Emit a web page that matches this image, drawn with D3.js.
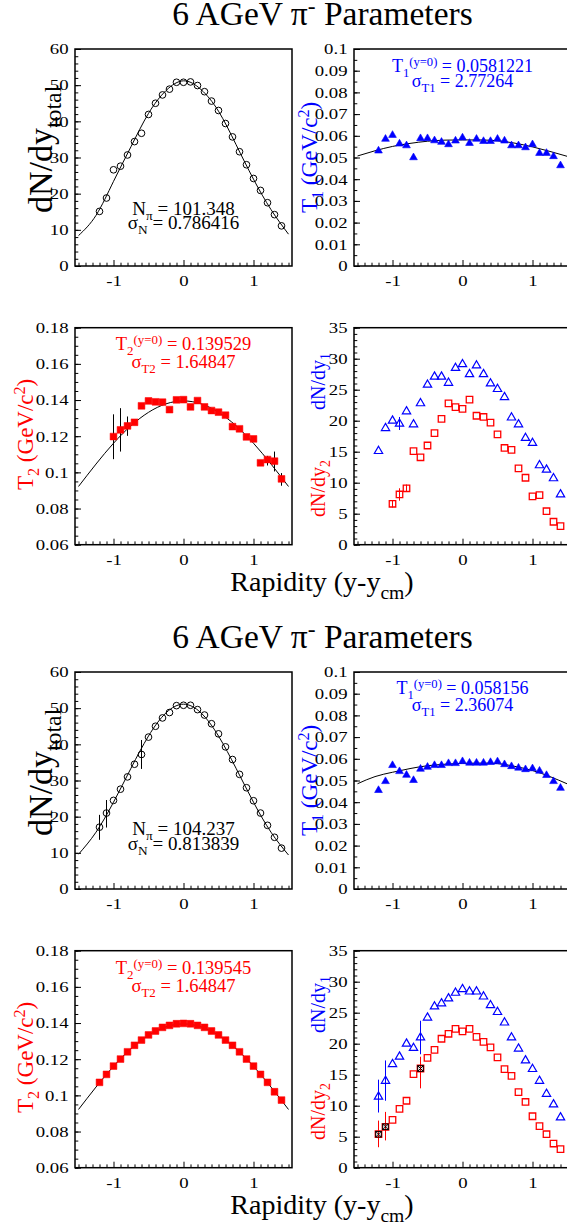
<!DOCTYPE html>
<html>
<head>
<meta charset="utf-8">
<script src="https://cdn.jsdelivr.net/npm/d3@7"></script>
<style>
  body { margin: 0; background: #fff; }
  svg text { font-family: "Liberation Serif", "Times New Roman", serif; }
</style>
</head>
<body>
<script>
var w = 567;
var h = 1228;
var SERIF = '"Liberation Serif", "Times New Roman", serif';

var svg = d3.select("body").append("svg").attr("width", w).attr("height", h)
  .attr("font-family", SERIF);

//rapidity bins used by every panel
var rapidity = [-1.2, -1.1, -1.0, -0.9, -0.8, -0.7, -0.6, -0.5, -0.4, -0.3, -0.2, -0.1, 0,
  0.1, 0.2, 0.3, 0.4, 0.5, 0.6, 0.7, 0.8, 0.9, 1.0, 1.1, 1.2, 1.3, 1.4];

//upper figure
var dndyTotalTop = [15.1, 18.8, 26.6, 27.6, 30.7, 34.4, 36.7, 41.9, 45.0, 47.3, 48.9, 50.8, 50.8,
  50.9, 49.9, 48.2, 45.6, 43.0, 39.4, 35.7, 31.6, 28.0, 24.2, 20.9, 17.5, 14.2, 11.1];
var t1Top = [0.0531, 0.0585, 0.0603, 0.0563, 0.0555, 0.0500, 0.0588, 0.0588, 0.0578, 0.0571, 0.0560, 0.0577, 0.0591,
  0.0566, 0.0585, 0.0575, 0.0575, 0.0585, 0.0577, 0.0555, 0.0555, 0.0546, 0.0560, 0.0520, 0.0520, 0.0505, 0.0463];
var t2Top = [null, null, 0.1198, 0.1235, 0.1257, 0.1277, 0.1368, 0.1395, 0.1390, 0.1388, 0.1347, 0.1401, 0.1402,
  0.1362, 0.1397, 0.1362, 0.1342, 0.1333, 0.1316, 0.1253, 0.1241, 0.1196, 0.1185, 0.1053, 0.1071, 0.1062, 0.0964];
var dndy1Top = [15.1, 18.8, 20.0, 19.5, 21.5, 19.4, 22.8, 25.8, 27.1, 27.1, 26.1, 28.5, 29.1,
  27.5, 28.9, 27.5, 26.0, 25.1, 23.8, 20.5, 19.4, 17.2, 16.4, 12.8, 12.1, 10.7, 8.1];
var dndy2Top = [null, null, 6.6, 8.1, 9.1, 15.1, 14.1, 16.0, 18.0, 20.3, 22.8, 22.2, 21.9,
  23.4, 20.8, 20.6, 19.7, 17.8, 15.6, 15.3, 12.3, 10.8, 7.8, 8.0, 5.4, 3.7, 3.0];

//lower figure
var dndyTotalBot = [17.1, 21.0, 24.5, 27.6, 31.0, 34.5, 37.2, 42.0, 45.0, 47.3, 48.8, 50.7, 50.8,
  50.8, 49.6, 48.1, 45.7, 42.9, 39.3, 35.8, 31.7, 28.0, 24.4, 21.0, 17.6, 14.3, 11.3];
var t1Bot = [0.0455, 0.0496, 0.0570, 0.0542, 0.0525, 0.0501, 0.0553, 0.0562, 0.0570, 0.0570, 0.0579, 0.0579, 0.0588,
  0.0581, 0.0581, 0.0581, 0.0584, 0.0587, 0.0574, 0.0565, 0.0558, 0.0551, 0.0555, 0.0544, 0.0524, 0.0496, 0.0465];
var t2Bot = [0.1072, 0.1116, 0.1162, 0.1201, 0.1241, 0.1277, 0.1306, 0.1334, 0.1356, 0.1376, 0.1387, 0.1396, 0.1398,
  0.1396, 0.1387, 0.1376, 0.1356, 0.1334, 0.1306, 0.1277, 0.1241, 0.1201, 0.1162, 0.1116, 0.1072, 0.1020, 0.0974];
var dndy1Bot = [11.45, 14.0, 16.7, 17.9, 20.0, 19.3, 21.0, 24.2, 26.0, 26.5, 27.3, 28.2, 28.8,
  28.4, 28.4, 27.6, 26.2, 25.1, 23.4, 21.0, 19.2, 17.3, 15.9, 14.0, 11.9, 10.2, 8.1];
var dndy2Bot = [5.4, 6.6, 7.7, 9.5, 10.8, 15.1, 16.0, 17.7, 19.0, 20.8, 21.6, 22.4, 22.0,
  22.4, 21.1, 20.3, 19.4, 17.8, 15.9, 14.8, 12.2, 10.6, 8.3, 6.7, 5.4, 3.9, 3.0];

//error bars: [rapidity, low, high]
var errT2Top = [[-1.0, 0.1073, 0.1321], [-0.9, 0.1115, 0.1355], [-0.8, 0.1202, 0.1309], [-0.7, 0.1264, 0.1290],
  [-0.6, 0.1356, 0.1380], [1.0, 0.1173, 0.1197], [1.1, 0.1041, 0.1065], [1.2, 0.1038, 0.1091],
  [1.3, 0.1005, 0.1115], [1.4, 0.0926, 0.0996]];
var errDndy1Top = [[-0.9, 18.5, 20.6]];
var errDndy2Top = [[-1.0, 6.0, 7.2], [-0.9, 7.1, 9.1], [-0.8, 8.5, 9.7]];
var errTotalBot = [[-1.2, 13.6, 20.5], [-1.1, 17.0, 24.6], [-0.6, 33.2, 41.2]];
var errDndy1Bot = [[-1.2, 8.9, 14.2], [-1.1, 10.8, 17.3], [-0.6, 18.3, 23.7]];
var errDndy2Bot = [[-1.2, 3.3, 7.6], [-1.1, 4.4, 9.0], [-0.6, 12.8, 17.9]];
//points flagged with a black crossed box in the lower dN/dy2 panel
var flaggedBot = [-1.2, -1.1, -0.6];

//fit curves
var fitRapidity = [-1.5, -1.25, -1.0, -0.75, -0.5, -0.25, 0, 0.25, 0.5, 0.75, 1.0, 1.25, 1.5];
var fitTotalTop = [8.4, 14.0, 23.4, 33.0, 42.2, 48.5, 51.2, 48.8, 42.8, 33.6, 24.0, 15.6, 8.8];
var fitTotalBot = [9.6, 15.7, 24.0, 33.4, 42.3, 48.7, 51.1, 48.7, 42.3, 33.4, 24.0, 15.7, 9.4];
var fitT1Top = [0.0507, 0.0531, 0.0551, 0.0565, 0.0575, 0.0580, 0.0581, 0.0581, 0.0577, 0.0566, 0.0549, 0.0528, 0.0505];
var fitT1Bot = [0.0485, 0.0518, 0.0538, 0.0555, 0.0568, 0.0575, 0.0579, 0.0580, 0.0578, 0.0565, 0.0546, 0.0518, 0.0484];
var fitT2Top = [0.0922, 0.1046, 0.1161, 0.1258, 0.1332, 0.1379, 0.1395, 0.1379, 0.1332, 0.1258, 0.1161, 0.1046, 0.0922];
var fitT2Bot = [0.0922, 0.1046, 0.1161, 0.1258, 0.1332, 0.1379, 0.1395, 0.1379, 0.1332, 0.1258, 0.1161, 0.1046, 0.0922];

//tick labels
var xTicks = [-1, 0, 1];
var yTicksTotal = [0, 10, 20, 30, 40, 50, 60];
var yTicksT1 = [0, 0.01, 0.02, 0.03, 0.04, 0.05, 0.06, 0.07, 0.08, 0.09, 0.1];
var yTicksT2 = [0.06, 0.08, 0.1, 0.12, 0.14, 0.16, 0.18];
var yTicksDndy = [0, 5, 10, 15, 20, 25, 30, 35];

var BLUE = "#0000ff", RED = "#ff0000";
var PW = 217, PH = 217;
var colX = [75, 354];
var halfY = [0, 623];
var rowY = [49, 327.7];
var TICK_STRETCH = 1.25;

//write text with sub/superscripts; parts = [[text, "sub"|"sup"|undefined], ...]
function rich(text, parts, fs) {
  var shift = 0;
  parts.forEach(function (p) {
    var t = text.append("tspan").text(p[0]);
    var target = p[1] === "sub" ? fs * 0.27 : p[1] === "sup" ? -fs * 0.33 : 0;
    if (p[1]) t.attr("font-size", fs * 0.7);
    t.attr("dy", target - shift);
    shift = target;
  });
  return text;
}

function axisStyle(a) {
  a.select(".domain").remove();
  a.attr("font-family", SERIF).attr("font-size", 15);
  //the tick digits of the original are wide, so stretch them sideways around their anchor
  a.selectAll(".tick text").attr("fill", "#000").attr("transform", function () {
    var xv = +d3.select(this).attr("x") || 0;
    return "translate(" + (xv * (1 - TICK_STRETCH)) + ",0) scale(" + TICK_STRETCH + ",1)";
  });
  a.selectAll(".tick line").attr("stroke", "#000");
}

function panel(opt) {
  var g = svg.append("g").attr("transform", "translate(" + opt.x + "," + opt.y + ")");
  var x = d3.scaleLinear().domain([-1.55, 1.55]).range([0, PW]);
  var y = d3.scaleLinear().domain(opt.yDomain).range([PH, 0]);

  //minor ticks
  g.append("g").attr("transform", "translate(0," + PH + ")")
    .call(d3.axisBottom(x).tickValues(d3.range(-15, 16).filter(function (v) { return v % 10 !== 0; })
      .map(function (v) { return v / 10; })).tickSize(-3.3).tickFormat(""))
    .call(axisStyle);
  var nMinor = Math.round((opt.yDomain[1] - opt.yDomain[0]) / opt.yMinor);
  g.append("g")
    .call(d3.axisLeft(y).tickValues(d3.range(0, nMinor + 1).map(function (i) { return opt.yDomain[0] + i * opt.yMinor; }))
      .tickSize(-3.3).tickFormat(""))
    .call(axisStyle);

  //major ticks + labels
  g.append("g").attr("transform", "translate(0," + PH + ")")
    .call(d3.axisBottom(x).tickValues(xTicks).tickSize(-6).tickPadding(9.4).tickFormat(function (d) { return String(d); }))
    .call(axisStyle);
  g.append("g")
    .call(d3.axisLeft(y).tickValues(opt.yTicks).tickSize(-6).tickPadding(6.5).tickFormat(function (d) { return String(d); }))
    .call(axisStyle);

  g.append("clipPath").attr("id", opt.id).append("rect").attr("width", PW).attr("height", PH);
  var inner = g.append("g").attr("clip-path", "url(#" + opt.id + ")");
  opt.draw(inner, x, y);

  g.append("rect").attr("width", PW).attr("height", PH)
    .attr("fill", "none").attr("stroke", "#000").attr("stroke-width", 1.5);
  return g;
}

function fitLine(g, x, y, vals) {
  g.append("path")
    .datum(fitRapidity.map(function (r, i) { return [r, vals[i]]; }))
    .attr("fill", "none").attr("stroke", "#000").attr("stroke-width", 1)
    .attr("d", d3.line().x(function (d) { return x(d[0]); }).y(function (d) { return y(d[1]); }).curve(d3.curveNatural));
}

function errBars(g, x, y, errs, color) {
  g.selectAll(null).data(errs).enter().append("line")
    .attr("x1", function (d) { return x(d[0]); }).attr("x2", function (d) { return x(d[0]); })
    .attr("y1", function (d) { return y(d[1]); }).attr("y2", function (d) { return y(d[2]); })
    .attr("stroke", color).attr("stroke-width", 1);
}

function points(g, x, y, vals, shape, size, fill, stroke, sw) {
  var pts = rapidity.map(function (r, i) { return [r, vals[i]]; }).filter(function (d) { return d[1] !== null; });
  g.selectAll(null).data(pts).enter().append("path")
    .attr("transform", function (d) { return "translate(" + x(d[0]) + "," + y(d[1]) + ")"; })
    .attr("d", d3.symbol().type(shape).size(size))
    .attr("fill", fill).attr("stroke", stroke).attr("stroke-width", sw);
}

function rotLabel(px, py, parts, fs, color) {
  var t = svg.append("text")
    .attr("transform", "translate(" + px + "," + py + ") rotate(-90)")
    .attr("font-size", fs).attr("fill", color);
  rich(t, parts, fs);
}

function note(px, py, parts, fs, color) {
  var t = svg.append("text").attr("x", px).attr("y", py).attr("text-anchor", "middle")
    .attr("font-size", fs).attr("fill", color);
  rich(t, parts, fs);
}

function figure(k, d) {
  var oy = halfY[k];

  //title
  rich(svg.append("text").attr("x", 322.5).attr("y", oy + 25).attr("text-anchor", "middle").attr("font-size", 33.5),
    [["6 AGeV \u03c0"], ["-", "sup"], [" Parameters"]], 33.5);

  //dN/dy total
  panel({ id: "c" + k + "a", x: colX[0], y: oy + rowY[0], yDomain: [0, 60], yTicks: yTicksTotal, yMinor: 2,
    draw: function (g, x, y) {
      fitLine(g, x, y, d.fitTotal);
      errBars(g, x, y, d.errTotal, "#000");
      points(g, x, y, d.total, d3.symbolCircle, 35, "none", "#000", 1);
    } });
  rotLabel(colX[0] - 23, oy + rowY[0] + 164, [["dN/dy"], ["total", "sub"]], 34, "#000");
  note(colX[0] + PW / 2, oy + rowY[0] + d.nY[0], [["N"], ["\u03c0", "sub"], [" = " + d.nText]], 19, "#000");
  note(colX[0] + PW / 2, oy + rowY[0] + d.nY[1], [["\u03c3"], ["N", "sub"], [" = " + d.sNText]], 19, "#000");

  //T1
  panel({ id: "c" + k + "b", x: colX[1], y: oy + rowY[0], yDomain: [0, 0.1], yTicks: yTicksT1, yMinor: 0.005,
    draw: function (g, x, y) {
      fitLine(g, x, y, d.fitT1);
      points(g, x, y, d.t1, d3.symbolTriangle, 26, BLUE, BLUE, 0.6);
    } });
  rotLabel(colX[1] - 37.3, oy + rowY[0] + 164, [["T"], ["1", "sub"], [" (GeV/c"], ["2", "sup"], [")"]], 23, BLUE);
  note(colX[1] + PW / 2, oy + rowY[0] + d.t1Y[0], [["T"], ["1", "sub"], ["(y=0)", "sup"], [" = " + d.t1Text]], 18, BLUE);
  note(colX[1] + PW / 2, oy + rowY[0] + d.t1Y[1], [["\u03c3"], ["T1", "sub"], [" = " + d.sT1Text]], 18, BLUE);

  //T2
  panel({ id: "c" + k + "c", x: colX[0], y: oy + rowY[1], yDomain: [0.06, 0.18], yTicks: yTicksT2, yMinor: 0.005,
    draw: function (g, x, y) {
      fitLine(g, x, y, d.fitT2);
      errBars(g, x, y, d.errT2, "#000");
      points(g, x, y, d.t2, d3.symbolSquare, 46, RED, RED, 0.5);
    } });
  rotLabel(colX[0] - 42, oy + rowY[1] + 162.3, [["T"], ["2", "sub"], [" (GeV/c"], ["2", "sup"], [")"]], 23, RED);
  note(colX[0] + PW / 2, oy + rowY[1] + d.t2Y[0], [["T"], ["2", "sub"], ["(y=0)", "sup"], [" = " + d.t2Text]], 18.5, RED);
  note(colX[0] + PW / 2, oy + rowY[1] + d.t2Y[1], [["\u03c3"], ["T2", "sub"], [" = " + d.sT2Text]], 18.5, RED);

  //dN/dy1 and dN/dy2
  panel({ id: "c" + k + "d", x: colX[1], y: oy + rowY[1], yDomain: [0, 35], yTicks: yTicksDndy, yMinor: 1,
    draw: function (g, x, y) {
      g.append("line").attr("x1", x(-1.55)).attr("x2", x(d.zeroEnd)).attr("y1", y(0)).attr("y2", y(0))
        .attr("stroke", "#c0206a").attr("stroke-width", 1.5);
      errBars(g, x, y, d.errD1, BLUE);
      errBars(g, x, y, d.errD2, RED);
      points(g, x, y, d.d1, d3.symbolTriangle, 30, "none", BLUE, 1.2);
      points(g, x, y, d.d2, d3.symbolSquare, 42, "none", RED, 1.3);
      var fl = d.flagged.map(function (r) { return [r, d.d2[rapidity.indexOf(r)]]; });
      var mk = g.selectAll(null).data(fl).enter().append("g")
        .attr("transform", function (p) { return "translate(" + x(p[0]) + "," + y(p[1]) + ")"; });
      mk.append("rect").attr("x", -2.8).attr("y", -2.8).attr("width", 5.6).attr("height", 5.6)
        .attr("fill", "none").attr("stroke", "#000").attr("stroke-width", 1);
      mk.append("path").attr("d", "M-2.8,-2.8L2.8,2.8M-2.8,2.8L2.8,-2.8").attr("stroke", "#000").attr("stroke-width", 1);
    } });
  rotLabel(colX[1] - 29, oy + rowY[1] + 82.3, [["dN/dy"], ["1", "sub"]], 20, BLUE);
  rotLabel(colX[1] - 29, oy + rowY[1] + 189.3, [["dN/dy"], ["2", "sub"]], 20, RED);

  //x title
  rich(svg.append("text").attr("x", 322).attr("y", oy + 591).attr("text-anchor", "middle").attr("font-size", 28),
    [["Rapidity (y-y"], ["cm", "sub"], [")"]], 28);
}

figure(0, {
  total: dndyTotalTop, fitTotal: fitTotalTop, errTotal: [],
  t1: t1Top, fitT1: fitT1Top,
  t2: t2Top, fitT2: fitT2Top, errT2: errT2Top,
  d1: dndy1Top, d2: dndy2Top, errD1: errDndy1Top, errD2: errDndy2Top, flagged: [], zeroEnd: -1.05,
  nText: "101.348", sNText: "0.786416", nY: [166, 179.5],
  t1Text: "0.0581221", sT1Text: "2.77264", t1Y: [22.7, 38.3],
  t2Text: "0.139529", sT2Text: "1.64847", t2Y: [22.3, 40.6]
});

figure(1, {
  total: dndyTotalBot, fitTotal: fitTotalBot, errTotal: errTotalBot,
  t1: t1Bot, fitT1: fitT1Bot,
  t2: t2Bot, fitT2: fitT2Bot, errT2: [],
  d1: dndy1Bot, d2: dndy2Bot, errD1: errDndy1Bot, errD2: errDndy2Bot, flagged: flaggedBot, zeroEnd: -1.25,
  nText: "104.237", sNText: "0.813839", nY: [163, 178],
  t1Text: "0.058156", sT1Text: "2.36074", t1Y: [22, 38.7],
  t2Text: "0.139545", sT2Text: "1.64847", t2Y: [23.3, 41]
});
</script>
</body>
</html>
